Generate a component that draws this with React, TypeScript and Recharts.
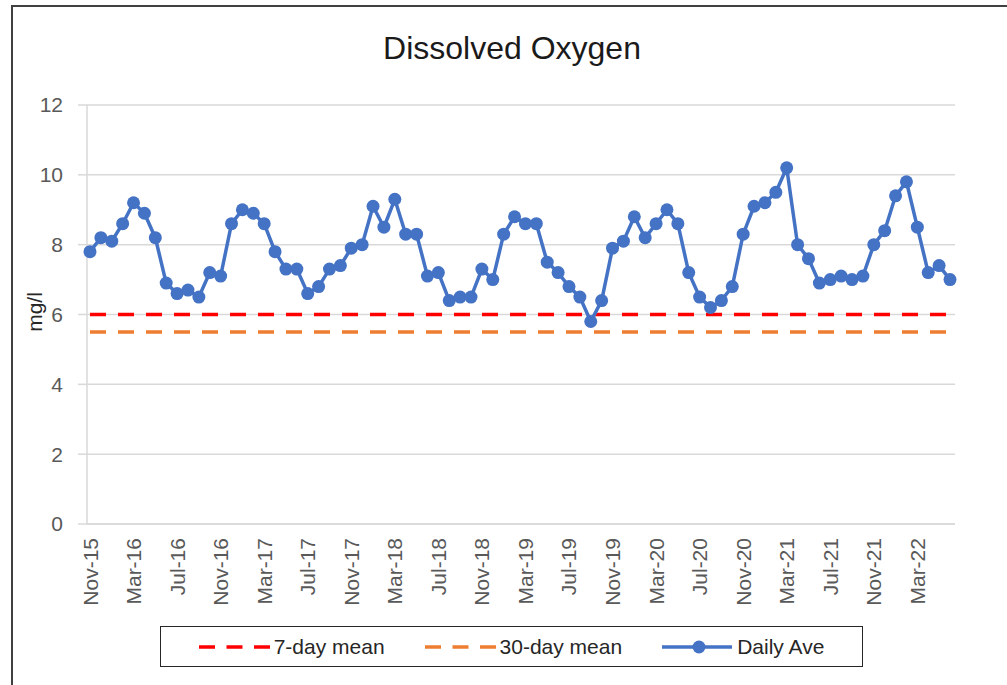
import { LineChart, Line, XAxis, YAxis, CartesianGrid, ReferenceLine } from 'recharts';

const months = [
  'Nov-15', 'Dec-15', 'Jan-16', 'Feb-16', 'Mar-16', 'Apr-16', 'May-16', 'Jun-16', 'Jul-16', 'Aug-16',
  'Sep-16', 'Oct-16', 'Nov-16', 'Dec-16', 'Jan-17', 'Feb-17', 'Mar-17', 'Apr-17', 'May-17', 'Jun-17',
  'Jul-17', 'Aug-17', 'Sep-17', 'Oct-17', 'Nov-17', 'Dec-17', 'Jan-18', 'Feb-18', 'Mar-18', 'Apr-18',
  'May-18', 'Jun-18', 'Jul-18', 'Aug-18', 'Sep-18', 'Oct-18', 'Nov-18', 'Dec-18', 'Jan-19', 'Feb-19',
  'Mar-19', 'Apr-19', 'May-19', 'Jun-19', 'Jul-19', 'Aug-19', 'Sep-19', 'Oct-19', 'Nov-19', 'Dec-19',
  'Jan-20', 'Feb-20', 'Mar-20', 'Apr-20', 'May-20', 'Jun-20', 'Jul-20', 'Aug-20', 'Sep-20', 'Oct-20',
  'Nov-20', 'Dec-20', 'Jan-21', 'Feb-21', 'Mar-21', 'Apr-21', 'May-21', 'Jun-21', 'Jul-21', 'Aug-21',
  'Sep-21', 'Oct-21', 'Nov-21', 'Dec-21', 'Jan-22', 'Feb-22', 'Mar-22', 'Apr-22', 'May-22', 'Jun-22',
];

const dailyAve = [
  7.8, 8.2, 8.1, 8.6, 9.2, 8.9, 8.2, 6.9, 6.6, 6.7,
  6.5, 7.2, 7.1, 8.6, 9.0, 8.9, 8.6, 7.8, 7.3, 7.3,
  6.6, 6.8, 7.3, 7.4, 7.9, 8.0, 9.1, 8.5, 9.3, 8.3,
  8.3, 7.1, 7.2, 6.4, 6.5, 6.5, 7.3, 7.0, 8.3, 8.8,
  8.6, 8.6, 7.5, 7.2, 6.8, 6.5, 5.8, 6.4, 7.9, 8.1,
  8.8, 8.2, 8.6, 9.0, 8.6, 7.2, 6.5, 6.2, 6.4, 6.8,
  8.3, 9.1, 9.2, 9.5, 10.2, 8.0, 7.6, 6.9, 7.0, 7.1,
  7.0, 7.1, 8.0, 8.4, 9.4, 9.8, 8.5, 7.2, 7.4, 7.0,
];

const sevenDayMean = 6;
const thirtyDayMean = 5.5;
const yTicks = [0, 2, 4, 6, 8, 10, 12];

const data = months.map((month, i) => ({ month, daily: dailyAve[i] }));

const FONT = '"Liberation Sans", Arial, sans-serif';
const BLUE = '#4472C4';
const RED = '#FF0000';
const ORANGE = '#ED7D31';

const XTick = ({ x, y, payload }: any) => {
  const ty = y + 14;
  return (
    <text
      x={x}
      y={ty}
      transform={`rotate(-90, ${x}, ${ty})`}
      textAnchor="end"
      dominantBaseline="central"
      fontSize={21}
      fontFamily={FONT}
      fill="#595959"
    >
      {payload.value}
    </text>
  );
};

const LegendItem = ({ kind, color, label }: { kind: 'dash' | 'dot'; color: string; label: string }) => (
  <div style={{ display: 'flex', alignItems: 'center' }}>
    <svg width={72} height={20} style={{ marginRight: 3 }}>
      {kind === 'dash' ? (
        <line x1={0} y1={10} x2={72} y2={10} stroke={color} strokeWidth={3.5} strokeDasharray="16 11.5" />
      ) : (
        <>
          <line x1={0} y1={10} x2={70} y2={10} stroke={color} strokeWidth={3.5} />
          <circle cx={37} cy={10} r={6.5} fill={color} />
        </>
      )}
    </svg>
    <span style={{ fontSize: 21, fontFamily: FONT, color: '#262626' }}>{label}</span>
  </div>
);

export default function App() {
  return (
    <div style={{ position: 'absolute', left: 0, top: 0, width: 1007, height: 685, overflow: 'hidden', background: '#fff' }}>
      <div
        style={{
          position: 'absolute',
          left: 11,
          top: 5,
          width: 1007,
          height: 700,
          borderTop: '2.5px solid #404040',
          borderLeft: '2.5px solid #404040',
        }}
      />
      <div
        style={{
          position: 'absolute',
          left: 0,
          top: 32,
          width: 1024,
          textAlign: 'center',
          fontSize: 32,
          lineHeight: '32px',
          fontFamily: FONT,
          color: '#1a1a1a',
        }}
      >
        Dissolved Oxygen
      </div>
      <div
        style={{
          position: 'absolute',
          left: 35,
          top: 312,
          transform: 'translate(-50%, -50%) rotate(-90deg)',
          fontSize: 21,
          fontFamily: FONT,
          color: '#262626',
          whiteSpace: 'nowrap',
        }}
      >
        mg/l
      </div>
      <div style={{ position: 'absolute', left: 0, top: 0 }}>
        <LineChart width={1007} height={685} data={data} margin={{ top: 105, right: 52, bottom: 81, left: 27 }}>
          <CartesianGrid vertical={false} stroke="#d9d9d9" strokeWidth={1.5} />
          <XAxis
            dataKey="month"
            interval={3}
            padding={{ left: 3, right: 5 }}
            height={80}
            tickLine={false}
            tickSize={0}
            tickMargin={0}
            axisLine={{ stroke: '#d9d9d9', strokeWidth: 1.5 }}
            tick={<XTick />}
          />
          <YAxis
            domain={[0, 12]}
            ticks={yTicks}
            width={60}
            tickSize={9}
            tickMargin={15}
            axisLine={{ stroke: '#d9d9d9', strokeWidth: 1.5 }}
            tickLine={{ stroke: '#d9d9d9', strokeWidth: 1.5 }}
            tick={{ fontSize: 21, fontFamily: FONT, fill: '#595959' }}
          />
          <ReferenceLine
            segment={[{ x: months[0], y: sevenDayMean }, { x: months[months.length - 1], y: sevenDayMean }]}
            stroke={RED}
            strokeWidth={3.5}
            strokeDasharray="16 12"
          />
          <ReferenceLine
            segment={[{ x: months[0], y: thirtyDayMean }, { x: months[months.length - 1], y: thirtyDayMean }]}
            stroke={ORANGE}
            strokeWidth={3.5}
            strokeDasharray="16 12"
          />
          <Line
            dataKey="daily"
            stroke={BLUE}
            strokeWidth={3.5}
            dot={{ r: 6.5, fill: BLUE, stroke: BLUE, strokeWidth: 0 }}
            activeDot={false}
            isAnimationActive={false}
          />
        </LineChart>
      </div>
      <div
        style={{
          position: 'absolute',
          left: 160,
          top: 626,
          width: 703,
          height: 41,
          border: '1.5px solid #262626',
          display: 'flex',
          alignItems: 'center',
          justifyContent: 'center',
          gap: 40,
          boxSizing: 'border-box',
        }}
      >
        <LegendItem kind="dash" color={RED} label="7-day mean" />
        <LegendItem kind="dash" color={ORANGE} label="30-day mean" />
        <LegendItem kind="dot" color={BLUE} label="Daily Ave" />
      </div>
    </div>
  );
}
